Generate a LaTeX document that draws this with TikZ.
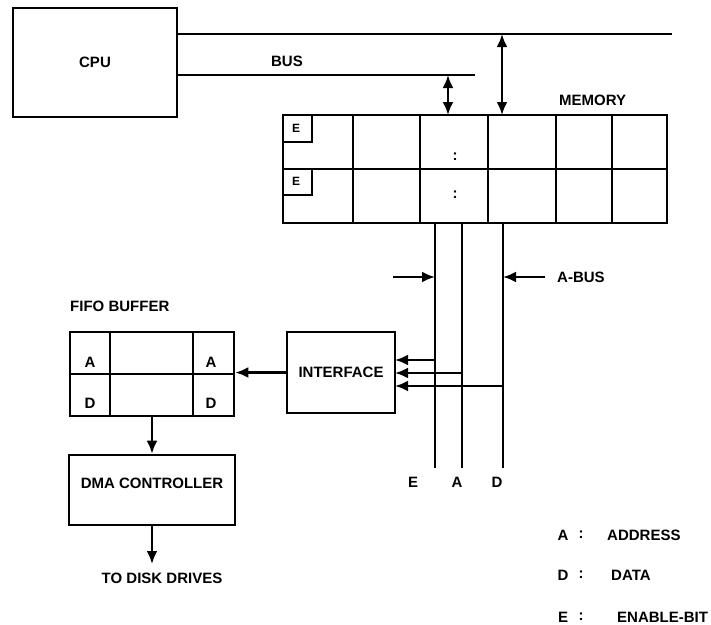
\documentclass[tikz,border=0pt]{standalone}
\usepackage{fontspec}
\setmainfont{Liberation Sans}
\usetikzlibrary{arrows.meta,positioning}

\tikzset{
  blk/.style={draw,line width=2.7pt,inner sep=0pt},
  cell/.style={line width=2.7pt},
  lbl/.style={font=\bfseries\fontsize{15}{17}\selectfont,inner sep=1pt},
  smalllbl/.style={font=\bfseries\fontsize{12}{14}\selectfont,inner sep=0pt},
  arr/.style={line width=2.4pt,-{Latex[length=13pt,width=11pt]}},
  dblarr/.style={line width=2.4pt,{Latex[length=13pt,width=11pt]}-{Latex[length=13pt,width=11pt]}},
  busline/.style={line width=2.2pt}
}

\begin{document}
\begin{tikzpicture}[x=1pt,y=-1pt]
  \useasboundingbox (0,0) rectangle (711,624);
  % blocks
  \node[blk,minimum width=164pt,minimum height=109pt] (cpu) at (95,62.5) {};
  \node[lbl] at (cpu) {CPU};
  \node[blk,minimum width=384pt,minimum height=108pt] (mem) at (475,169) {};
  \node[blk,minimum width=108pt,minimum height=81pt] (intf) at (341,372.5) {};
  \node[lbl] at (intf) {INTERFACE};
  \node[blk,minimum width=164pt,minimum height=84pt] (fifo) at (152,374) {};
  \node[blk,minimum width=166pt,minimum height=70pt] (dma) at (152,490) {};
  \node[lbl] at (152,483) {DMA CONTROLLER};

  % memory cells
  \foreach \x in {353,420,488,556,612} \draw[cell] (\x,115) -- (\x,223);
  \draw[cell] (mem.west) -- (mem.east);
  \foreach \y in {115,168} {
    \draw[cell] (283,\y+27) -| (312,\y);
    \node[smalllbl] at (296,\y+13) {E};
  }
  \node[lbl] at (455,157) {:};
  \node[lbl] at (455,195) {:};
  \node[lbl,anchor=west] at (558,100) {MEMORY};

  % fifo cells
  \draw[cell] (110,332) -- (110,416);
  \draw[cell] (193,332) -- (193,416);
  \draw[cell] (fifo.west) -- (fifo.east);
  \node[lbl] at (90,362) {A};
  \node[lbl] at (90,403) {D};
  \node[lbl] at (211,362) {A};
  \node[lbl] at (211,403) {D};
  \node[lbl,anchor=west] at (69,306) {FIFO BUFFER};

  % system bus
  \coordinate (bt) at (672,34);
  \coordinate (bb) at (475,75);
  \draw[busline] (cpu.east |- bt) -- (bt);
  \draw[busline] (cpu.east |- bb) -- (bb);
  \node[lbl] at (287,61) {BUS};
  \coordinate (m1) at (448,115);
  \coordinate (m2) at (502,115);
  \draw[dblarr] (m1 |- bb) -- (m1);
  \draw[dblarr] (m2 |- bt) -- (m2);

  % E, A, D lines
  \coordinate (lnE) at (435,468);
  \coordinate (lnA) at (462,468);
  \coordinate (lnD) at (503,468);
  \foreach \c in {lnE,lnA,lnD} \draw[busline] (\c |- mem.south) -- (\c);
  \node[lbl] at (413,482) {E};
  \node[lbl] at (457,482) {A};
  \node[lbl] at (497,482) {D};
  \coordinate (pl) at (393,277);
  \coordinate (pr) at (545,277);
  \draw[arr] (pl) -- (lnE |- pl);
  \draw[arr] (pr) -- (lnD |- pr);
  \node[lbl,anchor=west] at (556,277) {A-BUS};

  % into interface
  \coordinate (iE) at (395,360);
  \coordinate (iA) at (395,373);
  \coordinate (iD) at (395,386);
  \draw[arr] (lnE |- iE) -- (iE);
  \draw[arr] (lnA |- iA) -- (iA);
  \draw[arr] (lnD |- iD) -- (iD);

  % data path
  \draw[arr] (intf.west) -- (intf.west -| fifo.east);
  \draw[arr] (fifo.south) -- (dma.north);
  \coordinate (disk) at (152,564);
  \draw[arr] (dma.south) -- (disk);
  \node[lbl] at (162,578) {TO DISK DRIVES};

  % legend
  \node[lbl] (kA) at (563,535) {A};
  \node[lbl] (kD) at (563,575) {D};
  \node[lbl] (kE) at (563,617) {E};
  \foreach \k in {kA,kD,kE} \node[lbl] at ([xshift=18pt]\k) {:};
  \node[lbl,anchor=west] at (606,535) {ADDRESS};
  \node[lbl,anchor=west] at (610,575) {DATA};
  \node[lbl,anchor=west] at (616,617) {ENABLE-BIT};
\end{tikzpicture}
\end{document}
